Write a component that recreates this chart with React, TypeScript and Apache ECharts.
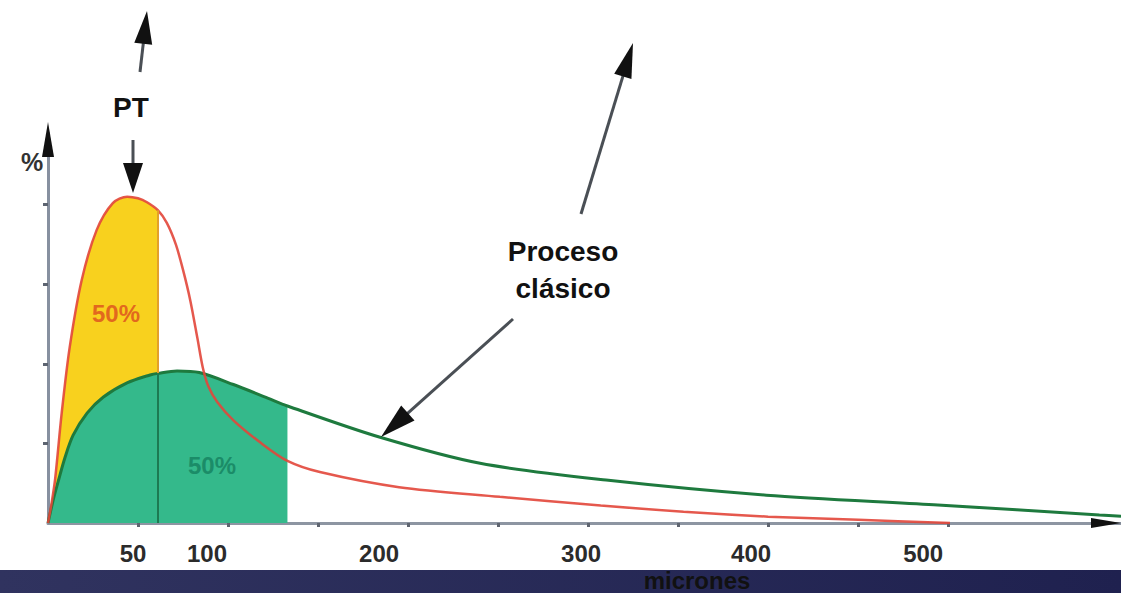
import React, { useEffect, useRef } from "react";
import * as echarts from "echarts";

// ---- data ----
// PT process distribution (red curve): particle size (microns) vs %
const ptX = [0, 2, 4, 7.6, 12, 18.7, 27, 36, 44, 50, 55, 61, 66, 71, 75, 79, 83, 86, 89, 94, 103, 118, 133, 151, 195, 251, 307, 353, 400, 450, 501];
const ptY = [0, 0.25, 0.56, 1.38, 2.2, 3.05, 3.68, 4.02, 4.1, 4.08, 4.03, 3.93, 3.77, 3.5, 3.18, 2.8, 2.32, 1.95, 1.72, 1.52, 1.29, 1.01, 0.78, 0.64, 0.45, 0.33, 0.22, 0.14, 0.08, 0.04, 0];
// Classic process distribution (green curve)
const classicX = [0, 3, 6, 9.4, 13.9, 21.7, 30.6, 43.9, 56.7, 61, 71.7, 84, 103, 122, 133, 184, 240, 310, 399, 492, 584, 596];
const classicY = [0, 0.3, 0.55, 0.82, 1.1, 1.38, 1.58, 1.76, 1.86, 1.88, 1.91, 1.89, 1.74, 1.57, 1.47, 1.08, 0.75, 0.54, 0.35, 0.23, 0.1, 0.085];
// 50 % (median) cut points
const ptHalfCut = 61;
const classicHalfCut = 133;
// axes
const xMin = 0;
const xMax = 596;
const xInterval = 50;
const xTickValues = [50, 100, 150, 200, 250, 300, 350, 400, 450, 500];
const xLabelValues = [50, 100, 200, 300, 400, 500];
const yMin = 0;
const yMax = 4.9;
const yTickValues = [1, 2, 3, 4];
// texts
const halfLabel = "50%";
const ptLabel = "PT";
const classicLabelLines = ["Proceso", "clásico"];
const xAxisName = "micrones";
const yAxisName = "%";

// label nudges (style only)
const labelPad: Record<number, number> = { 50: 10, 100: 42, 200: 58, 300: 14, 400: 34, 500: 50 };

const FONT = '"Liberation Sans", Arial, Helvetica, sans-serif';

function arrow(x1: number, y1: number, x2: number, y2: number, headLen: number, headW: number, shaftColor: string, shaftW: number) {
  const dx = x2 - x1;
  const dy = y2 - y1;
  const L = Math.hypot(dx, dy);
  const ux = dx / L;
  const uy = dy / L;
  const bx = x2 - ux * headLen;
  const by = y2 - uy * headLen;
  const nx = -uy;
  const ny = ux;
  return [
    {
      type: "line",
      z: 20,
      shape: { x1, y1, x2: bx + ux * 3, y2: by + uy * 3 },
      style: { stroke: shaftColor, lineWidth: shaftW },
    },
    {
      type: "polygon",
      z: 21,
      shape: {
        points: [
          [x2, y2],
          [bx + (nx * headW) / 2, by + (ny * headW) / 2],
          [bx - (nx * headW) / 2, by - (ny * headW) / 2],
        ],
      },
      style: { fill: "#111111" },
    },
  ];
}

function text(x: number, y: number, t: string, size: number, weight: string, color: string) {
  return {
    type: "text",
    z: 30,
    x,
    y,
    style: {
      text: t,
      fill: color,
      fontSize: size,
      fontWeight: weight,
      fontFamily: FONT,
      align: "center",
      verticalAlign: "middle",
      textAlign: "center",
      textVerticalAlign: "middle",
    },
  };
}

export default function App() {
  const ref = useRef<HTMLDivElement>(null);

  useEffect(() => {
    document.body.style.margin = "0";
    const chart = echarts.init(ref.current!, null, { renderer: "svg" });

    const ptData = ptX.map((x, i) => [x, ptY[i]]);
    const classicData = classicX.map((x, i) => [x, classicY[i]]);
    const yellowData = ptData.filter((d) => d[0] <= ptHalfCut);
    const greenFillData = classicData.filter((d) => d[0] <= classicHalfCut);
    const ptAtCut = ptY[ptX.indexOf(ptHalfCut)];
    const classicAtPtCut = classicY[classicX.indexOf(ptHalfCut)];

    const rich: Record<string, any> = {};
    xLabelValues.forEach((v) => {
      rich["l" + v] = {
        fontSize: 24,
        fontWeight: "bold",
        fontFamily: FONT,
        color: "#2b2b2b",
        padding: [0, labelPad[v] || 0, 0, 0],
      };
    });

    const option: any = {
      animation: false,
      backgroundColor: "#ffffff",
      grid: { left: 48, right: 0, top: 133, bottom: 70, containLabel: false, outerBoundsMode: "none" },
      xAxis: {
        type: "value",
        min: xMin,
        max: xMax,
        interval: xInterval,
        axisLine: { show: true, onZero: true, lineStyle: { color: "#8d95a2", width: 3 } },
        axisTick: { show: true, customValues: xTickValues, length: 4, lineStyle: { color: "#5f6570", width: 3 } },
        axisLabel: {
          show: true,
          customValues: xLabelValues,
          margin: 18,
          fontSize: 24,
          fontWeight: "bold",
          fontFamily: FONT,
          color: "#2b2b2b",
          formatter: (v: number) => `{l${v}|${v}}`,
          rich,
        },
        splitLine: { show: false },
      },
      yAxis: {
        type: "value",
        min: yMin,
        max: yMax,
        axisLine: { show: true, lineStyle: { color: "#8790a0", width: 3 } },
        axisTick: { show: true, customValues: yTickValues, length: 5, lineStyle: { color: "#5c6370", width: 3 } },
        axisLabel: { show: false },
        splitLine: { show: false },
      },
      series: [
        {
          name: "PT 50%",
          type: "line",
          data: yellowData,
          smooth: 0.3,
          showSymbol: false,
          silent: true,
          z: 1,
          lineStyle: { width: 0 },
          areaStyle: { color: "#f8d11e", opacity: 1 },
        },
        {
          name: "Clásico 50%",
          type: "line",
          data: greenFillData,
          smooth: 0.3,
          showSymbol: false,
          silent: true,
          z: 2,
          lineStyle: { width: 0 },
          areaStyle: { color: "#34b98b", opacity: 1 },
        },
        {
          name: "Proceso clásico",
          type: "line",
          data: classicData,
          smooth: 0.3,
          showSymbol: false,
          silent: true,
          z: 3,
          lineStyle: { color: "#1e7a3e", width: 3 },
          markLine: {
            silent: true,
            symbol: ["none", "none"],
            label: { show: false },
            data: [
              [
                { coord: [ptHalfCut, classicAtPtCut], lineStyle: { color: "#e3a02a", width: 2, type: "solid" } },
                { coord: [ptHalfCut, ptAtCut] },
              ],
              [
                { coord: [ptHalfCut, 0], lineStyle: { color: "#1d7a52", width: 2, type: "solid" } },
                { coord: [ptHalfCut, classicAtPtCut] },
              ],
            ],
          },
        },
        {
          name: "PT",
          type: "line",
          data: ptData,
          smooth: 0.3,
          showSymbol: false,
          silent: true,
          z: 4,
          lineStyle: { color: "#e2463a", width: 2.5, opacity: 0.9 },
        },
      ],
    };

    chart.setOption(option);

    const o = chart.convertToPixel({ gridIndex: 0 }, [xMin, yMin]) as number[];
    const xe = chart.convertToPixel({ gridIndex: 0 }, [xMax, yMin]) as number[];
    const ye = chart.convertToPixel({ gridIndex: 0 }, [xMin, yMax]) as number[];

    const graphics: any[] = [];
    // axis arrowheads
    graphics.push({
      type: "polygon",
      z: 21,
      shape: { points: [[o[0], ye[1] - 11], [o[0] - 6, ye[1] + 24], [o[0] + 6, ye[1] + 24]] },
      style: { fill: "#111111" },
    });
    graphics.push({
      type: "polygon",
      z: 21,
      shape: { points: [[xe[0], o[1]], [xe[0] - 30, o[1] - 5], [xe[0] - 30, o[1] + 5]] },
      style: { fill: "#111111" },
    });
    // annotation arrows
    graphics.push(...arrow(140, 72, 147, 11, 33, 18, "#4a4f55", 3));
    graphics.push(...arrow(133, 140, 133, 193, 30, 20, "#4a4f55", 3));
    graphics.push(...arrow(581, 214, 633, 43, 35, 18, "#4a4f55", 3));
    graphics.push(...arrow(513, 319, 381, 437, 36, 20, "#4a4f55", 3));
    // bottom band
    graphics.push({
      type: "rect",
      z: 5,
      shape: { x: 0, y: 570, width: 1121, height: 23 },
      style: {
        fill: {
          type: "linear",
          x: 0,
          y: 0,
          x2: 1,
          y2: 0,
          colorStops: [
            { offset: 0, color: "#30335f" },
            { offset: 1, color: "#1f214f" },
          ],
        },
      },
    });
    // texts
    graphics.push(text(131, 107, ptLabel, 28, "bold", "#111111"));
    graphics.push(text(563, 251, classicLabelLines[0], 28, "bold", "#111111"));
    graphics.push(text(563, 288, classicLabelLines[1], 28, "bold", "#111111"));
    graphics.push(text(116, 313, halfLabel, 24, "bold", "#e2681e"));
    graphics.push(text(212, 465, halfLabel, 24, "bold", "#1b8c68"));
    graphics.push(text(32, 162, yAxisName, 25, "bold", "#333333"));
    graphics.push(text(697, 580, xAxisName, 24, "bold", "#111111"));

    chart.setOption({ graphic: { elements: graphics } });

    return () => chart.dispose();
  }, []);

  return (
    <div
      ref={ref}
      style={{ position: "absolute", left: 0, top: 0, width: 1121, height: 593, background: "#ffffff" }}
    />
  );
}
